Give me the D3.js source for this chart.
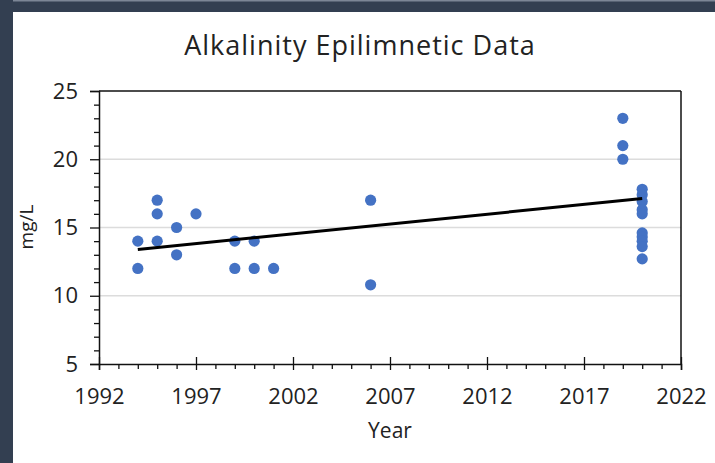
<!DOCTYPE html>
<html><head><meta charset="utf-8">
<script src="https://cdn.jsdelivr.net/npm/d3@7"></script>
<style>
html,body{margin:0;padding:0;background:#fff;}
svg{display:block;}
text{font-family:"Open Sans",sans-serif;fill:#222;}
</style></head>
<body>
<script>
// Data
const years = [1994,1994,1995,1995,1995,1996,1996,1997,1999,1999,2000,2000,2001,2006,2006,
  2019,2019,2019,2020,2020,2020,2020,2020,2020,2020,2020,2020,2020];
const values = [14,12,17,16,14,15,13,16,14,12,14,12,12,17,10.8,
  23,21,20,17.8,17.4,16.9,16.3,16.0,14.6,14.3,14.0,13.6,12.7];
const trendYears = [1994,2020];
const trendValues = [13.39,17.12];
const xTicks = [1992,1997,2002,2007,2012,2017,2022];
const yTicks = [5,10,15,20,25];
const gridValues = [10,15,20];
const title = "Alkalinity Epilimnetic Data";
const xTitle = "Year";
const yTitle = "mg/L";

const W = 715, H = 463;
const FONT = "'Open Sans',sans-serif";
const svg = d3.select("body").append("svg").attr("width", W).attr("height", H);

// frame
svg.append("rect").attr("x",0).attr("y",0).attr("width",W).attr("height",H).attr("fill","#fff");
svg.append("rect").attr("x",0).attr("y",0).attr("width",W).attr("height",12).attr("fill","#333f51");
svg.append("rect").attr("x",0).attr("y",0).attr("width",W).attr("height",1.5).attr("fill","#7c8696");
svg.append("rect").attr("x",0).attr("y",0).attr("width",13).attr("height",H).attr("fill","#333f51");

const L = 99, R = 681, T = 91, B = 364;
const x = d3.scaleLinear().domain([1992,2022]).range([L,R]);
const y = d3.scaleLinear().domain([5,25]).range([B,T]);

// grid
svg.append("g").selectAll("line").data(gridValues).join("line")
  .attr("x1",L).attr("x2",R).attr("y1",d=>y(d)).attr("y2",d=>y(d))
  .attr("stroke","#dcdcdc").attr("stroke-width",1.5);

// box top & right
svg.append("line").attr("x1",L).attr("x2",R).attr("y1",T).attr("y2",T).attr("stroke","#111").attr("stroke-width",1.5);
svg.append("line").attr("x1",R).attr("x2",R).attr("y1",T).attr("y2",B).attr("stroke","#111").attr("stroke-width",1.5);

// y axis
const yMinor = d3.range(5,26,1).filter(v=>v%5!==0);
svg.append("g").attr("transform",`translate(${L},0)`)
  .call(d3.axisLeft(y).tickValues(yMinor).tickSize(5).tickFormat(""))
  .call(g=>g.select(".domain").remove())
  .call(g=>g.selectAll("line").attr("stroke","#111").attr("stroke-width",1.3));
svg.append("g").attr("transform",`translate(${L},0)`)
  .call(d3.axisLeft(y).tickValues(yTicks).tickSize(9).tickPadding(12).tickFormat(d3.format("d")))
  .call(g=>g.select(".domain").attr("stroke","#111").attr("stroke-width",1.5))
  .call(g=>g.selectAll("line").attr("stroke","#111").attr("stroke-width",1.3))
  .call(g=>g.selectAll("text").attr("font-size",22).attr("fill","#222").style("font-family",FONT));

// x axis
const xMinor = d3.range(1992,2023,1).filter(v=>(v-1992)%5!==0);
svg.append("g").attr("transform",`translate(0,${B})`)
  .call(d3.axisBottom(x).tickValues(xMinor).tickSize(5).tickFormat(""))
  .call(g=>g.select(".domain").remove())
  .call(g=>g.selectAll("line").attr("stroke","#111").attr("stroke-width",1.3));
svg.append("g").attr("transform",`translate(0,${B})`)
  .call(d3.axisBottom(x).tickValues(xTicks).tickSize(6).tickPadding(18).tickFormat(d3.format("d")))
  .call(g=>g.select(".domain").attr("stroke","#111").attr("stroke-width",1.5))
  .call(g=>g.selectAll("line").attr("stroke","#111").attr("stroke-width",1.3).attr("y1",-7))
  .call(g=>g.selectAll("text").attr("font-size",22).attr("fill","#222").style("font-family",FONT));

// points
svg.append("g").selectAll("circle").data(years.map((yr,i)=>[yr,values[i]])).join("circle")
  .attr("cx",d=>x(d[0])).attr("cy",d=>y(d[1])).attr("r",5.6).attr("fill","#4472c4");

// trend
svg.append("path").datum(trendYears.map((yr,i)=>[yr,trendValues[i]]))
  .attr("d",d3.line().x(d=>x(d[0])).y(d=>y(d[1])))
  .attr("stroke","#000").attr("stroke-width",3).attr("fill","none");

// titles
svg.append("text").attr("x",360).attr("y",55).attr("text-anchor","middle").attr("font-size",27).attr("letter-spacing",1).text(title);
svg.append("text").attr("x",390).attr("y",438).attr("text-anchor","middle").attr("font-size",21).text(xTitle);
svg.append("text").attr("transform","translate(33,227) rotate(-90)").attr("text-anchor","middle").attr("font-size",19).text(yTitle);
</script>
</body></html>
